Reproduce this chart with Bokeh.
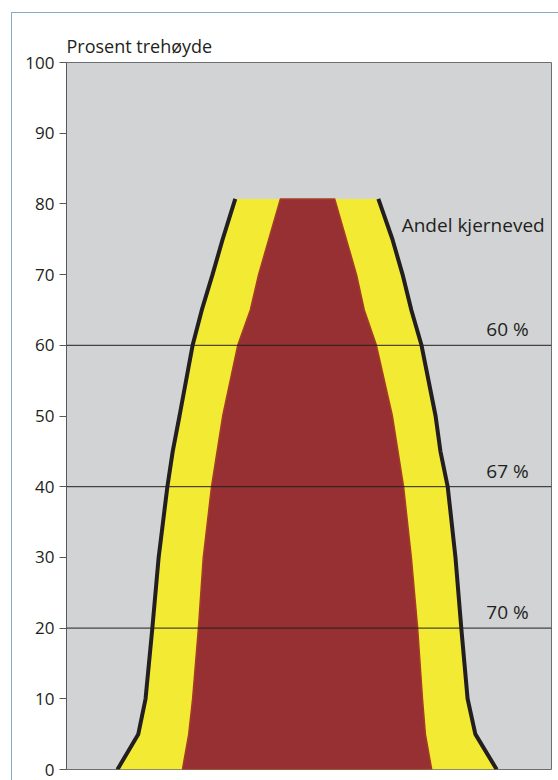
from bokeh.plotting import figure
from bokeh.models import Range1d, FixedTicker, Span, Label, InlineStyleSheet
from bokeh.embed import file_html
from bokeh.resources import INLINE

# ---- data ----
# heights in percent of tree height
outer_heights = [0, 5, 10, 20, 30, 40, 45, 50, 60, 65, 70, 75, 80.7]
outer_left = [10.5, 14.8, 16.3, 17.7, 19.0, 20.8, 21.9, 23.3, 26.0, 27.9, 30.1, 32.2, 34.8]
outer_right = [88.7, 84.3, 82.7, 81.4, 80.2, 78.6, 77.1, 76.1, 73.2, 71.1, 69.3, 67.2, 64.3]

inner_heights = [0, 5, 10, 20, 30, 40, 50, 60, 65, 70, 80.7]
inner_left = [23.9, 25.2, 26.0, 27.2, 28.2, 29.9, 32.2, 35.3, 37.9, 39.6, 44.1]
inner_right = [75.3, 74.0, 73.4, 72.4, 71.1, 69.5, 67.2, 63.9, 61.4, 59.8, 55.3]

ref_levels = [60, 40, 20]
ref_labels = ["60 %", "67 %", "70 %"]
y_ticks = [0, 10, 20, 30, 40, 50, 60, 70, 80, 90, 100]

FONT = "Open Sans"
GREY = "#d1d3d4"
YELLOW = "#f3eb33"
RED = "#963032"
RED_EDGE = "#a63c28"
BLACK = "#231f20"

frame_css = InlineStyleSheet(css="""
:host::before {
  content: "";
  position: absolute;
  left: 11px;
  top: 12px;
  right: 0px;
  bottom: 0px;
  border-left: 1px solid #86acca;
  border-top: 1px solid #86acca;
  pointer-events: none;
  z-index: 5;
}
""")

p = figure(width=558, height=780, output_backend="svg", toolbar_location=None,
           x_range=Range1d(0, 100), y_range=Range1d(0, 100),
           min_border_left=66, min_border_right=7, min_border_top=62, min_border_bottom=11,
           title="Prosent trehøyde", stylesheets=[frame_css])

p.background_fill_color = GREY
p.border_fill_color = "white"
p.outline_line_color = "#6d6e71"
p.outline_line_width = 1
p.grid.visible = False
p.xaxis.visible = False

p.title.text_font = FONT
p.title.text_font_size = "18px"
p.title.text_font_style = "normal"
p.title.text_color = "#231f20"
p.title.align = "left"
p.title.offset = 0
p.title.standoff = 10

ax = p.yaxis[0]
ax.ticker = FixedTicker(ticks=y_ticks)
ax.major_tick_in = 0
ax.major_tick_out = 7
ax.minor_tick_line_color = None
ax.axis_line_color = "#58595b"
ax.major_tick_line_color = "#58595b"
ax.major_label_text_font = FONT
ax.major_label_text_font_size = "17px"
ax.major_label_text_color = "#231f20"
ax.major_label_standoff = 5

# yellow (sapwood) area
ys_outer = outer_heights + outer_heights[::-1]
xs_outer = outer_left + outer_right[::-1]
p.patch(xs_outer, ys_outer, fill_color=YELLOW, line_color=None)

# red (heartwood) area
ys_inner = inner_heights + inner_heights[::-1]
xs_inner = inner_left + inner_right[::-1]
p.patch(xs_inner, ys_inner, fill_color=RED, line_color=RED_EDGE, line_width=1.5)

# black stem outline
p.line(outer_left, outer_heights, line_color=BLACK, line_width=4)
p.line(outer_right, outer_heights, line_color=BLACK, line_width=4)

# reference lines and labels
for lev, lab in zip(ref_levels, ref_labels):
    p.add_layout(Span(location=lev, dimension="width", line_color="#231f20", line_width=1))
    p.add_layout(Label(x=95.3, y=lev, text=lab, text_align="right", text_baseline="bottom",
                       y_offset=3, text_font=FONT, text_font_size="19px", text_color="#231f20"))

p.add_layout(Label(x=98.6, y=77.0, text="Andel kjerneved", text_align="right",
                   text_baseline="middle", text_font=FONT, text_font_size="19px",
                   text_color="#231f20"))

open("out.html", "w").write(file_html(p, INLINE))
